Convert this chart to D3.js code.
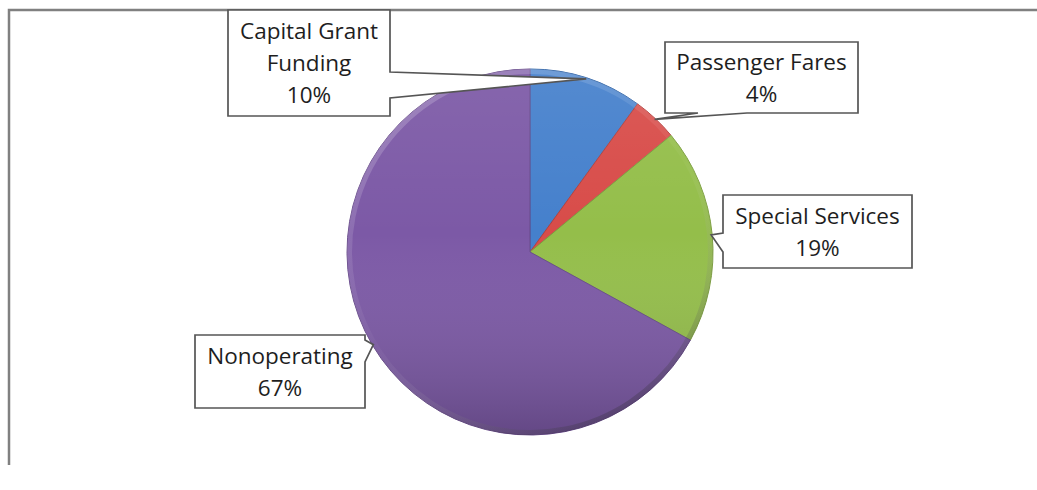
<!DOCTYPE html>
<html>
<head>
<meta charset="utf-8">
<script src="https://cdn.jsdelivr.net/npm/d3@7"></script>
<style>
  body { margin: 0; background: #fff; }
  text { font-family: "Open Sans", sans-serif; fill: #1e1e1e; }
</style>
</head>
<body>
<div class="chart"></div>
<script>
// chart data
var categories = ["Capital Grant Funding", "Passenger Fares", "Special Services", "Nonoperating"];
var values = [10, 4, 19, 67];
var labelLines = [["Capital Grant", "Funding", "10%"], ["Passenger Fares", "4%"], ["Special Services", "19%"], ["Nonoperating", "67%"]];
var colors = ["#4580cc", "#d84c49", "#94be4a", "#7c59a6"];

var svgWidth = 1037;
var svgHeight = 490;

var svg = d3.select(".chart")
    .append("svg")
    .attr("width", svgWidth)
    .attr("height", svgHeight);

var defs = svg.append("defs");

// frame of the chart area (right and bottom edges are cut off)
svg.append("path")
    .attr("d", "M9,465 V10 H1037")
    .attr("fill", "none")
    .attr("stroke", "#808080")
    .attr("stroke-width", 2.5);

var cx = 530, cy = 252, radius = 183;

var pie = d3.pie().sort(null).value(d => d)(values);
var arc = d3.arc().innerRadius(0).outerRadius(radius);

var pieGroup = svg.append("g")
    .attr("transform", `translate(${cx}, ${cy})`);

pieGroup.selectAll("path.slice")
    .data(pie)
    .enter()
    .append("path")
    .attr("class", "slice")
    .attr("d", arc)
    .attr("fill", (d, i) => colors[i])
    .attr("stroke", (d, i) => d3.color(colors[i]).darker(0.5))
    .attr("stroke-width", 1);

// soft top-to-bottom shading
var shade = defs.append("linearGradient")
    .attr("id", "shade").attr("x1", 0).attr("y1", 0).attr("x2", 0).attr("y2", 1);
shade.append("stop").attr("offset", "0").attr("stop-color", "#fff").attr("stop-opacity", 0.08);
shade.append("stop").attr("offset", "0.45").attr("stop-color", "#fff").attr("stop-opacity", 0);
shade.append("stop").attr("offset", "1").attr("stop-color", "#000").attr("stop-opacity", 0.2);

pieGroup.append("circle")
    .attr("r", radius)
    .attr("fill", "url(#shade)");

// bevel rim: light on top-left, dark on bottom-right
var rim = defs.append("linearGradient")
    .attr("id", "rim").attr("x1", 0.2).attr("y1", 0).attr("x2", 0.8).attr("y2", 1);
rim.append("stop").attr("offset", "0").attr("stop-color", "#fff").attr("stop-opacity", 0.22);
rim.append("stop").attr("offset", "0.5").attr("stop-color", "#fff").attr("stop-opacity", 0.03);
rim.append("stop").attr("offset", "1").attr("stop-color", "#000").attr("stop-opacity", 0.3);

pieGroup.append("path")
    .attr("d", d3.arc().innerRadius(radius - 5).outerRadius(radius).startAngle(0).endAngle(2 * Math.PI)())
    .attr("fill", "url(#rim)");

// callout boxes: x0, x1, y0, y1, side of the pointer and its base
var boxes = [
    { x0: 228, x1: 390, y0: 10, y1: 116, side: "right", a: 72, b: 98 },
    { x0: 665, x1: 858, y0: 42, y1: 113, side: "bottom", a: 747, b: 698 },
    { x0: 723, x1: 912, y0: 195, y1: 268, side: "left", a: 252, b: 233 },
    { x0: 195, x1: 365, y0: 335, y1: 408, side: "right", a: 340, b: 362 }
];

var tipArc = d3.arc().innerRadius(radius - 1).outerRadius(radius - 1);

function calloutPath(bx, tip) {
    var p = d3.path();
    var t = [tip[0] + cx, tip[1] + cy];
    p.moveTo(bx.x0, bx.y0);
    p.lineTo(bx.x1, bx.y0);
    if (bx.side === "right") {
        p.lineTo(bx.x1, bx.a);
        p.lineTo(t[0], t[1]);
        p.lineTo(bx.x1, bx.b);
    }
    p.lineTo(bx.x1, bx.y1);
    if (bx.side === "bottom") {
        p.lineTo(bx.a, bx.y1);
        p.lineTo(t[0], t[1]);
        p.lineTo(bx.b, bx.y1);
    }
    p.lineTo(bx.x0, bx.y1);
    if (bx.side === "left") {
        p.lineTo(bx.x0, bx.a);
        p.lineTo(t[0], t[1]);
        p.lineTo(bx.x0, bx.b);
    }
    p.closePath();
    return p.toString();
}

var labelGroup = svg.append("g");

pie.forEach(function(d, i) {
    var bx = boxes[i];
    var tip = tipArc.centroid(d);
    labelGroup.append("path")
        .attr("d", calloutPath(bx, tip))
        .attr("fill", "#fff")
        .attr("stroke", "#555")
        .attr("stroke-width", 1.7)
        .attr("stroke-linejoin", "miter");

    var lines = labelLines[i];
    var lineH = 32;
    var midX = (bx.x0 + bx.x1) / 2;
    var midY = (bx.y0 + bx.y1) / 2;
    var t = labelGroup.append("text")
        .attr("text-anchor", "middle")
        .attr("font-size", 22.5);
    lines.forEach(function(line, j) {
        t.append("tspan")
            .attr("x", midX)
            .attr("y", midY + (j - (lines.length - 1) / 2) * lineH)
            .attr("dy", "0.36em")
            .text(line);
    });
});
</script>
</body>
</html>
